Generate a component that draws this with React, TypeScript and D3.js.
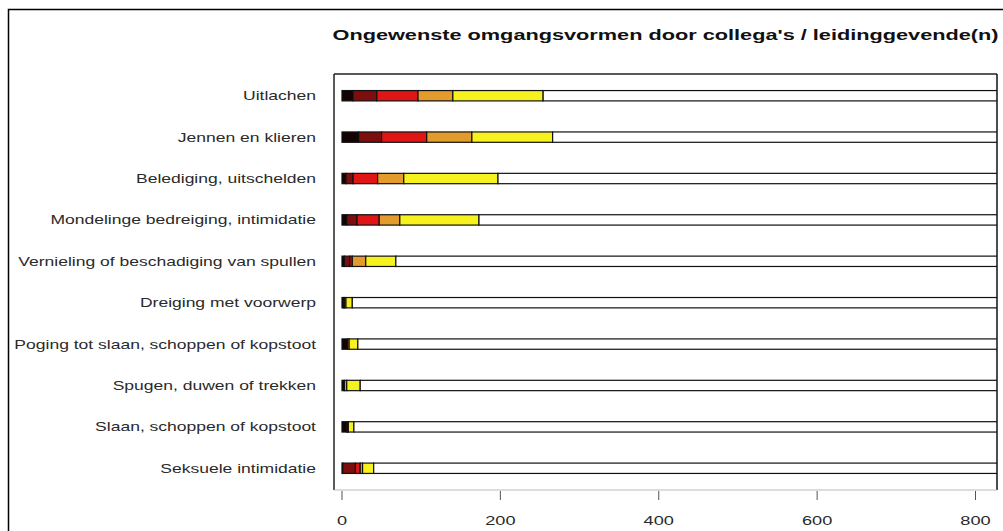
import React from "react";
import * as d3 from "d3";

const categorieen = [
  "Uitlachen",
  "Jennen en klieren",
  "Belediging, uitschelden",
  "Mondelinge bedreiging, intimidatie",
  "Vernieling of beschadiging van spullen",
  "Dreiging met voorwerp",
  "Poging tot slaan, schoppen of kopstoot",
  "Spugen, duwen of trekken",
  "Slaan, schoppen of kopstoot",
  "Seksuele intimidatie",
];

// counts per frequency class, left to right in each bar
const zwart = [14, 21, 5, 6, 3, 2, 7, 3, 6, 1];
const donkerrood = [30, 29, 9, 13, 7, 1, 0, 0, 1, 16];
const rood = [52, 57, 31, 28, 3, 0, 0, 0, 0, 6];
const oranje = [44, 57, 33, 26, 17, 2, 2, 3, 1, 3];
const geel = [114, 102, 119, 100, 38, 8, 11, 17, 7, 14];
const nooit = [576, 564, 633, 657, 762, 817, 810, 807, 815, 790];

const xTicks = [0, 200, 400, 600, 800];

const keys = ["zwart", "donkerrood", "rood", "oranje", "geel", "nooit"];
const kleuren = ["#140303", "#7c0e0e", "#e01616", "#e39c2c", "#f7f21e", "#ffffff"];

const W = 1003;
const H = 531;
const plot = { left: 334, right: 997, top: 74, bottom: 490 };

export default function App() {
  const rows = categorieen.map((c, i) => ({
    cat: c,
    zwart: zwart[i],
    donkerrood: donkerrood[i],
    rood: rood[i],
    oranje: oranje[i],
    geel: geel[i],
    nooit: nooit[i],
  }));

  const series = d3.stack<any>().keys(keys)(rows);

  const x = d3.scaleLinear().domain([0, 800]).range([342, 975.5]);
  const y = d3
    .scaleBand()
    .domain(categorieen)
    .range([plot.top, plot.bottom])
    .paddingInner(0.75)
    .paddingOuter(0.4);

  const color = d3.scaleOrdinal<string>().domain(keys).range(kleuren);
  const font = "'Liberation Sans', Arial, sans-serif";

  return (
    <div style={{ position: "absolute", left: 0, top: 0 }}>
      <svg width={W} height={H} style={{ display: "block", background: "#fff" }}>
        <defs>
          <clipPath id="plotclip">
            <rect x={plot.left} y={plot.top} width={plot.right - plot.left} height={plot.bottom - plot.top} />
          </clipPath>
        </defs>

        {/* outer frame */}
        <rect x={8.5} y={9.5} width={1010} height={540} fill="none" stroke="#000" strokeWidth={1.5} />

        <text
          x={(plot.left + plot.right) / 2}
          y={40}
          textAnchor="middle"
          fontFamily={font}
          fontWeight="bold"
          fontSize={15}
          textLength={666}
          lengthAdjust="spacingAndGlyphs"
          fill="#111"
        >
          Ongewenste omgangsvormen door collega's / leidinggevende(n)
        </text>

        <g clipPath="url(#plotclip)">
          {series.map((s) => (
            <g key={s.key} fill={color(s.key)}>
              {s.map((d) => (
                <rect
                  key={d.data.cat}
                  x={x(d[0])}
                  y={y(d.data.cat)}
                  width={Math.max(0, x(d[1]) - x(d[0]))}
                  height={y.bandwidth()}
                  stroke="#111"
                  strokeWidth={1.2}
                />
              ))}
            </g>
          ))}
        </g>

        {/* plot box */}
        <line x1={plot.left} x2={plot.right} y1={plot.top} y2={plot.top} stroke="#222" strokeWidth={1.5} />
        <line x1={plot.left} x2={plot.left} y1={plot.top} y2={plot.bottom} stroke="#222" strokeWidth={1.5} />
        <line x1={plot.right} x2={plot.right} y1={plot.top} y2={plot.bottom} stroke="#111" strokeWidth={1.5} />
        <line x1={plot.left} x2={plot.right} y1={plot.bottom} y2={plot.bottom} stroke="#bbb" strokeWidth={1} />

        {/* category labels */}
        {categorieen.map((c) => (
          <text
            key={c}
            transform={`translate(316, ${(y(c) ?? 0) + y.bandwidth() / 2 + 4.5}) scale(1.46, 1)`}
            textAnchor="end"
            fontFamily={font}
            fontSize={12}
            fill="#2a2a2a"
          >
            {c}
          </text>
        ))}

        {/* x axis */}
        {xTicks.map((t) => (
          <g key={t}>
            <line x1={x(t)} x2={x(t)} y1={plot.bottom + 1} y2={plot.bottom + 10} stroke="#555" strokeWidth={1} />
            <text
              transform={`translate(${x(t)}, 525) scale(1.4, 1)`}
              textAnchor="middle"
              fontFamily={font}
              fontSize={13}
              fill="#2a2a2a"
            >
              {t}
            </text>
          </g>
        ))}
      </svg>
    </div>
  );
}
